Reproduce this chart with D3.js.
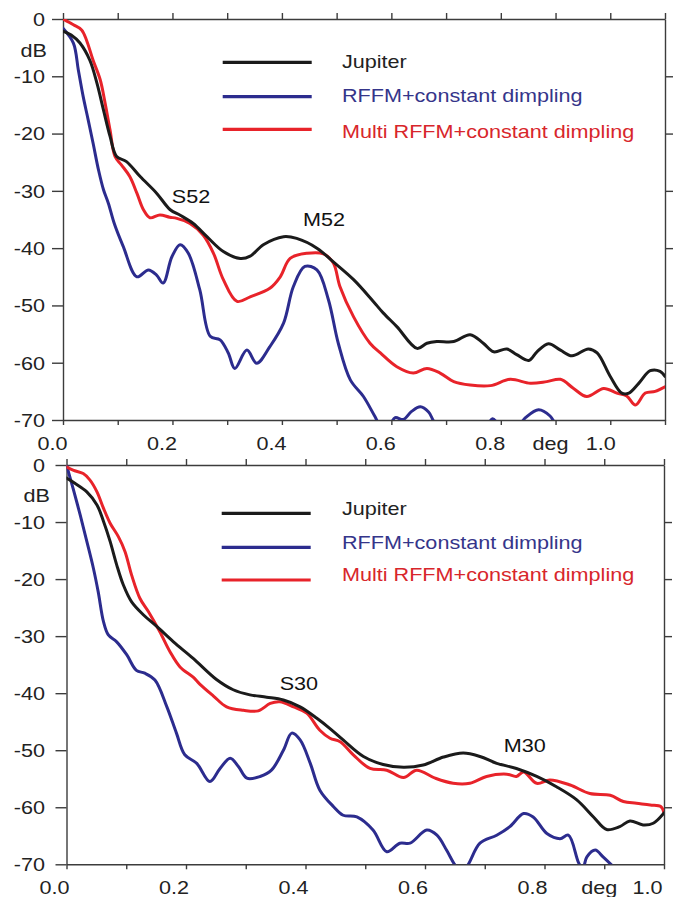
<!DOCTYPE html>
<html>
<head>
<meta charset="utf-8">
<script src="https://cdn.jsdelivr.net/npm/d3@7/dist/d3.min.js"></script>
<style>
  html, body { margin: 0; padding: 0; background: #fff; }
  svg { display: block; }
</style>
</head>
<body>
<svg id="chart" width="673" height="897"></svg>
<script>
// ---- Series names and colours -------------------------------------------
const seriesNames  = ["Jupiter", "RFFM+constant dimpling", "Multi RFFM+constant dimpling"];
const seriesColors = ["#1b1b1b", "#2c2c8e", "#e8232a"];
const labelColors  = ["#222222", "#35358a", "#d8262b"];

// ---- Axis ticks ----------------------------------------------------------
const dbTicks        = [0, -10, -20, -30, -40, -50, -60, -70];
const dbRightTicks   = [-10, -20, -30, -40, -50, -60];
const degTicksUpper  = [0, 0.1, 0.2, 0.3, 0.4, 0.5, 0.6, 0.7, 0.8, 0.9, 1.0, 1.1];
const degTicksLower  = [0, 0.1, 0.2, 0.3, 0.4, 0.5, 0.6, 0.7, 0.8, 0.9, 1.0];
const degLabelValues = [0, 0.2, 0.4, 0.6, 0.8, 1.0];
const degLabelTexts  = ["0.0", "0.2", "0.4", "0.6", "0.8", "1.0"];

// ---- Upper panel (S52 / M52): [deg, dB] -----------------------------------
const jupiter52 = [[0,-2.1],[0.015,-2.8],[0.031,-4.2],[0.049,-7.2],[0.062,-11.2],[0.074,-15.9],[0.086,-20.5],
  [0.098,-24.0],[0.116,-24.9],[0.141,-27.5],[0.171,-30.4],[0.196,-33.3],[0.215,-34.3],[0.238,-35.7],[0.263,-38.0],
  [0.293,-40.6],[0.324,-41.8],[0.342,-41.4],[0.366,-39.4],[0.403,-38.0],[0.427,-38.3],[0.464,-40.0],[0.494,-42.4],
  [0.531,-45.5],[0.567,-49.3],[0.585,-51.3],[0.610,-53.7],[0.647,-57.5],[0.665,-56.6],[0.683,-56.3],[0.714,-56.3],
  [0.744,-55.1],[0.768,-56.6],[0.787,-58.1],[0.811,-57.6],[0.829,-58.6],[0.851,-59.6],[0.866,-58.1],[0.887,-56.7],
  [0.909,-57.8],[0.930,-58.8],[0.960,-57.6],[0.976,-58.3],[1.0,-62.4],[1.021,-65.3],[1.034,-65.3],[1.052,-63.6],
  [1.073,-61.4],[1.091,-61.5],[1.1,-62.4]];
const rffm52 = [[0,-1.6],[0.019,-4.2],[0.028,-8.9],[0.037,-13.6],[0.046,-17.6],[0.055,-21.7],[0.065,-26.4],
  [0.074,-29.8],[0.083,-32.2],[0.094,-35.8],[0.110,-39.7],[0.135,-45.0],[0.156,-43.8],[0.171,-44.7],[0.183,-46.1],
  [0.199,-41.5],[0.214,-39.4],[0.229,-40.9],[0.250,-47.3],[0.269,-55.4],[0.287,-56.0],[0.302,-58.3],[0.314,-61.0],
  [0.336,-57.8],[0.354,-60.1],[0.378,-57.2],[0.403,-53.1],[0.421,-46.7],[0.442,-43.2],[0.464,-43.8],[0.485,-49.0],
  [0.503,-56.6],[0.525,-63.0],[0.549,-65.9],[0.570,-69.4],[0.583,-71.5],[0.597,-70.8],[0.607,-69.6],[0.622,-69.9],
  [0.637,-68.5],[0.653,-67.7],[0.668,-68.6],[0.680,-70.6],[0.72,-74],[0.765,-72.5],[0.785,-69.8],[0.80,-71.2],
  [0.83,-71.2],[0.845,-69.6],[0.869,-68.2],[0.89,-69.3],[0.905,-71.5],[0.95,-75],[1.1,-76]];
const multi52 = [[0,0],[0.019,-1.0],[0.034,-1.9],[0.043,-3.7],[0.055,-7.2],[0.068,-10.6],[0.077,-14.7],
  [0.086,-19.4],[0.095,-24.0],[0.107,-25.5],[0.122,-27.5],[0.135,-30.4],[0.147,-33.3],[0.159,-34.7],[0.177,-34.2],
  [0.195,-34.6],[0.208,-34.8],[0.232,-35.7],[0.256,-37.7],[0.275,-40.9],[0.293,-45.5],[0.318,-49.3],[0.342,-48.5],
  [0.378,-47.0],[0.397,-45.0],[0.415,-41.8],[0.446,-40.9],[0.476,-41.0],[0.494,-42.6],[0.506,-46.7],[0.531,-52.0],
  [0.561,-56.6],[0.580,-58.3],[0.610,-60.7],[0.640,-61.8],[0.665,-61.0],[0.689,-61.8],[0.714,-63.3],[0.744,-63.9],
  [0.781,-64.0],[0.817,-62.9],[0.854,-63.6],[0.884,-63.3],[0.909,-62.9],[0.933,-64.5],[0.957,-65.9],[0.988,-64.5],
  [1.012,-65.3],[1.030,-65.8],[1.046,-67.4],[1.064,-65.3],[1.082,-65.0],[1.1,-64.2]];

// ---- Lower panel (S30 / M30): [deg, dB] -----------------------------------
const jupiter30 = [[0,-2.3],[0.014,-3.2],[0.034,-4.7],[0.051,-7.0],[0.062,-9.9],[0.073,-13.4],[0.084,-17.5],
  [0.095,-21.0],[0.109,-24.0],[0.129,-26.3],[0.151,-28.3],[0.179,-31.0],[0.212,-33.9],[0.251,-37.6],[0.279,-39.4],
  [0.307,-40.3],[0.335,-40.7],[0.363,-41.2],[0.391,-42.4],[0.419,-44.4],[0.441,-46.2],[0.463,-48.2],[0.497,-51.1],
  [0.530,-52.5],[0.564,-53.0],[0.597,-52.6],[0.631,-51.2],[0.664,-50.5],[0.692,-51.1],[0.720,-52.3],[0.753,-53.2],
  [0.787,-54.6],[0.820,-56.4],[0.854,-58.7],[0.882,-61.7],[0.904,-63.9],[0.926,-63.4],[0.943,-62.4],[0.965,-63.1],
  [0.982,-62.8],[1.0,-61.0]];
const rffm30 = [[0,0],[0.011,-4.1],[0.023,-8.8],[0.034,-13.4],[0.045,-18.1],[0.053,-22.2],[0.062,-27.5],
  [0.070,-29.8],[0.084,-31.0],[0.101,-33.3],[0.117,-36.0],[0.131,-36.5],[0.148,-37.7],[0.168,-42.4],[0.184,-47.0],
  [0.198,-50.8],[0.218,-52.3],[0.240,-55.5],[0.257,-53.2],[0.274,-51.4],[0.288,-52.9],[0.302,-54.9],[0.324,-54.6],
  [0.343,-53.5],[0.363,-50.0],[0.377,-47.0],[0.391,-48.2],[0.408,-52.3],[0.424,-57.0],[0.447,-59.9],[0.463,-61.4],
  [0.486,-61.7],[0.513,-64.0],[0.536,-67.8],[0.558,-66.3],[0.575,-66.3],[0.603,-64.0],[0.620,-64.9],[0.636,-67.5],
  [0.650,-70.1],[0.661,-71.5],[0.672,-70.1],[0.692,-66.3],[0.720,-64.9],[0.742,-63.4],[0.765,-61.1],[0.781,-61.7],
  [0.804,-64.6],[0.826,-65.5],[0.840,-64.9],[0.857,-69.7],[0.864,-70.8],[0.871,-68.7],[0.885,-67.5],[0.898,-68.7],
  [0.912,-70.1],[0.93,-72],[1.0,-74]];
const multi30 = [[0,-0.3],[0.011,-0.9],[0.028,-1.5],[0.039,-2.6],[0.051,-4.7],[0.062,-7.6],[0.073,-10.2],
  [0.087,-12.6],[0.098,-15.2],[0.109,-19.3],[0.123,-23.4],[0.137,-25.7],[0.156,-29.2],[0.173,-32.7],[0.190,-35.4],
  [0.212,-37.2],[0.223,-38.4],[0.246,-40.5],[0.268,-42.4],[0.296,-43.0],[0.321,-43.1],[0.341,-41.8],[0.357,-41.5],
  [0.380,-42.4],[0.402,-43.5],[0.424,-46.5],[0.441,-47.9],[0.458,-48.5],[0.480,-50.8],[0.508,-53.2],[0.536,-53.5],
  [0.564,-54.8],[0.586,-53.5],[0.617,-54.9],[0.647,-55.8],[0.675,-55.8],[0.703,-54.6],[0.737,-54.2],[0.753,-54.6],
  [0.765,-53.8],[0.787,-55.8],[0.809,-55.2],[0.843,-56.1],[0.876,-57.6],[0.910,-57.9],[0.932,-59.0],[0.954,-59.3],
  [0.977,-59.6],[0.995,-59.9],[1.0,-61.0]];

// ---- Lobe annotations: [text, deg, dB] ------------------------------------
const notes52 = [["S52", 0.234, -32.1], ["M52", 0.477, -36.1]];
const notes30 = [["S30", 0.389, -39.4], ["M30", 0.767, -50.3]];

// ---- Layout ----------------------------------------------------------------
const FONT = '"Liberation Sans", Arial, Helvetica, sans-serif';
const FS = 18;      // font size
const SX = 1.2;     // horizontal text stretch
const AXIS = "#3c3c3c";

const panels = [
  { id: "p52", left: 63, right: 665, top: 19, bottom: 420, degMax: 1.1, degTicks: degTicksUpper,
    series: [jupiter52, rffm52, multi52], notes: notes52, yPad: 7, xLabelDx: -11, lastDx: -10,
    legendX: [222.7, 311.7], legendTextX: 342, legendLineY: [62.3, 96.7, 129.3], legendTextY: [68, 102, 137.5],
    dbLabel: [47, 57] },
  { id: "p30", left: 66.5, right: 664, top: 465, bottom: 864.3, degMax: 1.0, degTicks: degTicksLower,
    series: [jupiter30, rffm30, multi30], notes: notes30, yPad: 10.5, xLabelDx: -12.5, lastDx: -17,
    legendX: [221.7, 310.7], legendTextX: 342, legendLineY: [513.3, 547.3, 580], legendTextY: [515, 548.5, 580.5],
    dbLabel: [50, 501.7] }
];

const svg = d3.select("#chart");

// Stretch a text element horizontally about its own anchor point.
function stretch(sel) {
  sel.each(function () {
    const t = d3.select(this);
    const x = +t.attr("x") || 0;
    const y = +t.attr("y") || 0;
    t.attr("x", 0).attr("y", 0).attr("transform", `translate(${x},${y}) scale(${SX},1)`);
  });
}

function styleAxis(g) {
  g.selectAll("path, line").attr("stroke", AXIS).attr("stroke-width", 1.4);
  g.selectAll("text").attr("font-family", FONT).attr("font-size", FS).attr("fill", "#222");
}

panels.forEach(p => {
  const x = d3.scaleLinear().domain([0, p.degMax]).range([p.left, p.right]);
  const y = d3.scaleLinear().domain([-70, 0]).range([p.bottom, p.top]);
  const g = svg.append("g");

  // clip region for the curves
  svg.append("defs").append("clipPath").attr("id", "clip-" + p.id)
    .append("rect").attr("x", p.left).attr("y", p.top)
    .attr("width", p.right - p.left).attr("height", p.bottom - p.top);

  // axes
  const left = g.append("g").attr("transform", `translate(${p.left},0)`)
    .call(d3.axisLeft(y).tickValues(dbTicks).tickSize(11).tickSizeOuter(0).tickPadding(p.yPad)
      .tickFormat(d => String(d)));
  styleAxis(left);
  left.selectAll("text").attr("dy", "0.35em").each(function () {
    const t = d3.select(this);
    const x0 = +t.attr("x");
    t.attr("x", 0).attr("transform", `translate(${x0},0) scale(${SX},1)`);
  });

  const right = g.append("g").attr("transform", `translate(${p.right},0)`)
    .call(d3.axisRight(y).tickValues(dbRightTicks).tickSize(8).tickSizeOuter(0).tickFormat(""));
  styleAxis(right);

  const topAx = g.append("g").attr("transform", `translate(0,${p.top})`)
    .call(d3.axisTop(x).tickValues(p.degTicks).tickSize(6).tickSizeOuter(0).tickFormat(""));
  styleAxis(topAx);

  const labelFor = d => {
    const i = degLabelValues.findIndex(v => Math.abs(v - d) < 1e-6);
    return i >= 0 ? degLabelTexts[i] : "";
  };
  const bottomAx = g.append("g").attr("transform", `translate(0,${p.bottom})`)
    .call(d3.axisBottom(x).tickValues(p.degTicks).tickSize(5).tickSizeOuter(0).tickPadding(12.2)
      .tickFormat(labelFor));
  styleAxis(bottomAx);
  bottomAx.selectAll("text").each(function (d) {
    const t = d3.select(this);
    const dx = Math.abs(d - 1.0) < 1e-6 ? p.lastDx : p.xLabelDx;
    t.attr("transform", `translate(${dx},0) scale(${SX},1)`);
  });

  // "deg" unit label between the last two labels
  g.append("text").attr("x", x(0.9) - 5).attr("y", p.bottom + 30)
    .attr("text-anchor", "middle").attr("font-family", FONT).attr("font-size", FS).attr("fill", "#222")
    .text("deg").call(stretch);

  // "dB" unit label
  g.append("text").attr("x", p.dbLabel[0]).attr("y", p.dbLabel[1])
    .attr("text-anchor", "end").attr("font-family", FONT).attr("font-size", FS).attr("fill", "#222")
    .text("dB").call(stretch);

  // curves
  const line = d3.line().x(d => x(d[0])).y(d => y(d[1])).curve(d3.curveCatmullRom.alpha(0.5));
  const curves = g.append("g").attr("clip-path", `url(#clip-${p.id})`);
  [1, 2, 0].forEach(i => {
    curves.append("path").datum(p.series[i])
      .attr("d", line).attr("fill", "none")
      .attr("stroke", seriesColors[i]).attr("stroke-width", 3)
      .attr("stroke-linejoin", "round").attr("stroke-linecap", "round");
  });

  // lobe annotations
  g.selectAll(null).data(p.notes).enter().append("text")
    .attr("x", d => x(d[1])).attr("y", d => y(d[2]))
    .attr("text-anchor", "middle").attr("font-family", FONT).attr("font-size", FS).attr("fill", "#111")
    .text(d => d[0]).call(stretch);

  // legend
  const lg = g.append("g");
  seriesNames.forEach((name, i) => {
    lg.append("line").attr("x1", p.legendX[0]).attr("x2", p.legendX[1])
      .attr("y1", p.legendLineY[i]).attr("y2", p.legendLineY[i])
      .attr("stroke", seriesColors[i]).attr("stroke-width", 3.2);
    lg.append("text").attr("x", p.legendTextX).attr("y", p.legendTextY[i])
      .attr("font-family", FONT).attr("font-size", FS).attr("fill", labelColors[i])
      .text(name).call(stretch);
  });
});
</script>
</body>
</html>
